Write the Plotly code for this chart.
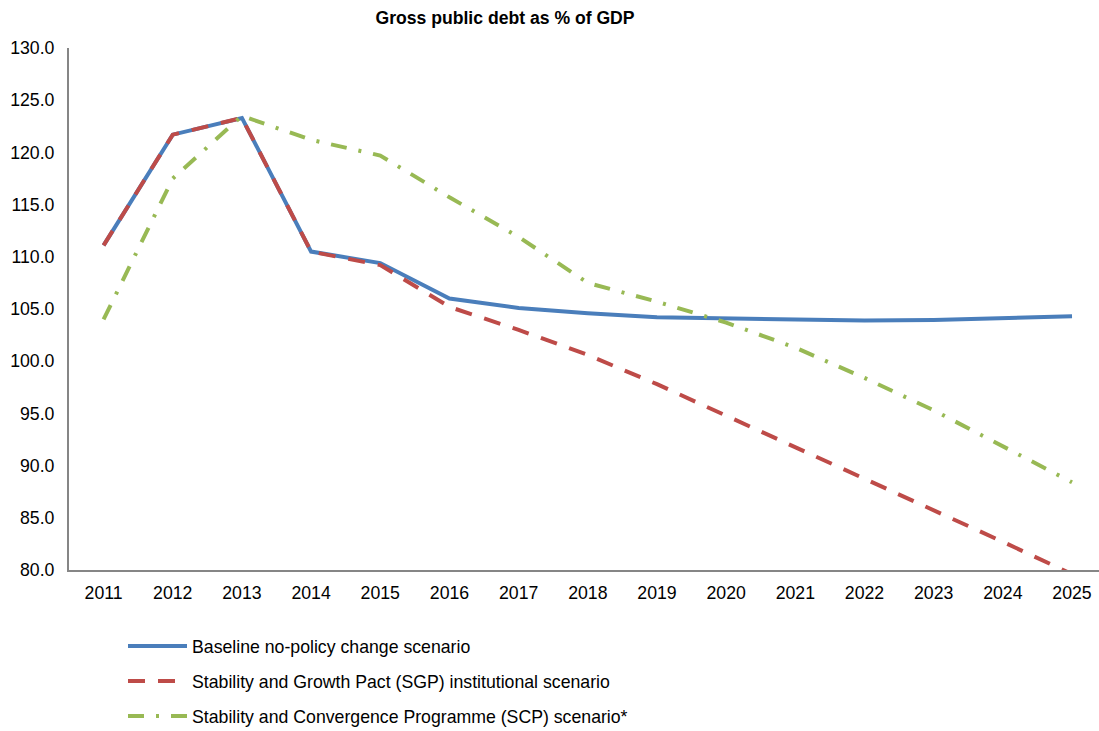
import plotly.graph_objects as go

years = list(range(2011, 2026))
baseline = [111.1, 121.7, 123.3, 110.5, 109.4, 106.0, 105.1, 104.6, 104.2, 104.1, 104.0, 103.9, 103.95, 104.1, 104.3]
sgp = [111.1, 121.7, 123.3, 110.5, 109.2, 105.2, 103.0, 100.6, 97.8, 94.8, 91.7, 88.7, 85.7, 82.7, 79.6]
scp = [104.0, 117.5, 123.5, 121.2, 119.7, 115.7, 111.9, 107.5, 105.7, 103.7, 101.3, 98.4, 95.3, 91.8, 88.4]

names = [
    "Baseline no-policy change scenario",
    "Stability and Growth Pact (SGP) institutional scenario",
    "Stability and Convergence Programme (SCP) scenario*",
]
ytick_vals = [80, 85, 90, 95, 100, 105, 110, 115, 120, 125, 130]

fig = go.Figure()
fig.add_trace(go.Scatter(x=years, y=baseline, mode="lines", name=names[0], legendgroup="a",
                         line=dict(color="#4A7EBB", width=4)))
fig.add_trace(go.Scatter(x=years, y=sgp, mode="lines", name=names[1], legendgroup="b",
                         line=dict(color="#BE4B48", width=4, dash="17px,13px")))
fig.add_trace(go.Scatter(x=years, y=scp, mode="lines", name=names[2], legendgroup="c",
                         line=dict(color="#98B954", width=4, dash="16px,12px,3px,12px")))

font = "Liberation Sans, Arial, sans-serif"
fs = 17.7
fig.update_layout(
    width=1099, height=731,
    margin=dict(l=69, r=0, t=48, b=161, autoexpand=False),
    paper_bgcolor="white", plot_bgcolor="white",
    font=dict(family=font, size=fs, color="#000000"),
    title=dict(text="<b>Gross public debt as % of GDP</b>", x=505 / 1099, xanchor="center",
               y=1 - 18 / 731, yanchor="middle", font=dict(size=17.6, family=font)),
    xaxis=dict(range=[2010.5, 2025.39], tickmode="array", tickvals=years,
               ticktext=[str(y) for y in years], showgrid=False, zeroline=False,
               showline=True, linecolor="#868686", linewidth=2, ticks="",
               ticklabelstandoff=6, tickfont=dict(size=fs)),
    yaxis=dict(range=[80, 130], tickmode="array", tickvals=ytick_vals,
               ticktext=[f"{v:.1f}" for v in ytick_vals], showgrid=False, zeroline=False,
               showline=True, linecolor="#868686", linewidth=2, ticks="",
               ticklabelstandoff=9, tickfont=dict(size=fs)),
    legend=dict(x=54 / 1030, xanchor="left", y=-58 / 522, yanchor="top",
                orientation="v", font=dict(size=fs), tracegroupgap=9,
                itemwidth=59, bgcolor="rgba(0,0,0,0)"),
    showlegend=True,
)

fig.write_html("out.html")
